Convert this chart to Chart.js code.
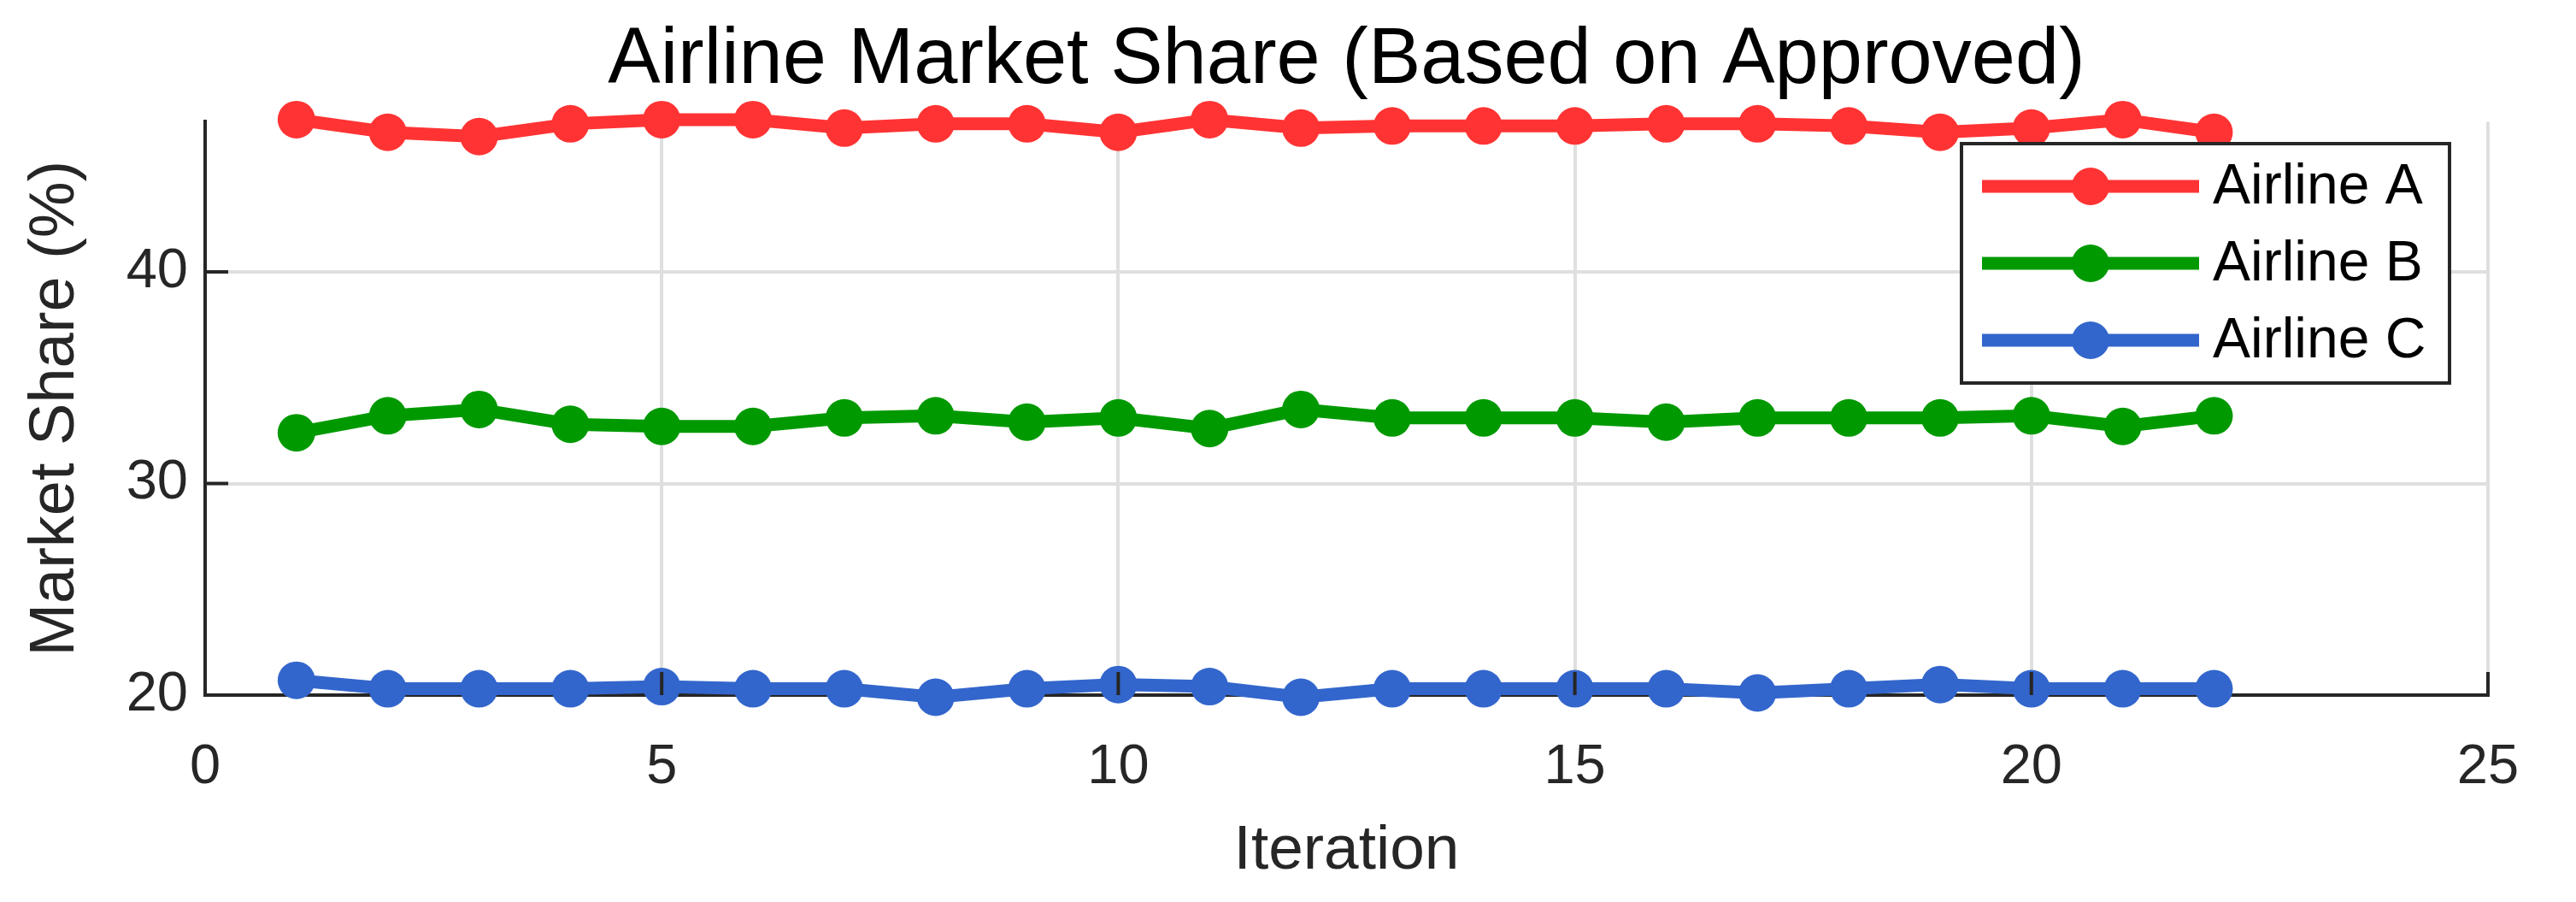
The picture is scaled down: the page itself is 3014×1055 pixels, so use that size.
<!DOCTYPE html>
<html lang="en">
<head>
  <meta charset="UTF-8" />
  <title>Airline Market Share</title>
  <script src="https://cdn.jsdelivr.net/npm/chart.js"></script>
  <style>
    html, body {
      margin: 0;
      padding: 0;
      background: #ffffff;
    }
    #chart {
      display: block;
    }
  </style>
</head>
<body>
<canvas id="chart" width="3014" height="1055"></canvas>
<script>
  // data
  const iterations = [1, 2, 3, 4, 5, 6, 7, 8, 9, 10, 11, 12, 13, 14, 15, 16, 17, 18, 19, 20, 21, 22];
  const airlineA = [47.2, 46.6, 46.4, 47.0, 47.2, 47.2, 46.8, 47.0, 47.0, 46.6, 47.2, 46.8, 46.9, 46.9, 46.9, 47.0, 47.0, 46.9, 46.6, 46.8, 47.2, 46.6];
  const airlineB = [32.4, 33.2, 33.5, 32.8, 32.7, 32.7, 33.1, 33.2, 32.9, 33.1, 32.6, 33.5, 33.1, 33.1, 33.1, 32.9, 33.1, 33.1, 33.1, 33.2, 32.7, 33.2];
  const airlineC = [20.7, 20.3, 20.3, 20.3, 20.4, 20.3, 20.3, 19.9, 20.3, 20.5, 20.4, 19.9, 20.3, 20.3, 20.3, 20.3, 20.1, 20.3, 20.5, 20.3, 20.3, 20.3];
  const seriesNames = ['Airline A', 'Airline B', 'Airline C'];
  const xTicks = [0, 5, 10, 15, 20, 25];
  const yTicks = [20, 30, 40];

  const colors = ['#ff3333', '#009900', '#3366cc'];
  const axisColor = '#262626';
  const gridColor = '#dfdfdf';
  const fontFamily = '"Liberation Sans", Arial, Helvetica, sans-serif';

  function toPoints(values) {
    return iterations.map((x, i) => ({ x: x, y: values[i] }));
  }

  const allSeries = [airlineA, airlineB, airlineC];
  const datasets = allSeries.map((values, i) => ({
    label: seriesNames[i],
    data: toPoints(values),
    borderColor: colors[i],
    backgroundColor: colors[i],
    pointBackgroundColor: colors[i],
    pointBorderWidth: 0,
    pointRadius: 22,
    borderWidth: 15,
    tension: 0,
    clip: false
  }));

  // center the title over the plot box instead of the whole canvas
  const centerTitle = {
    id: 'centerTitle',
    afterLayout(chart) {
      if (chart.titleBlock) {
        chart.titleBlock.left = chart.chartArea.left;
        chart.titleBlock.right = chart.chartArea.right;
      }
    }
  };

  // MATLAB style ticks pointing into the plot box
  const inwardTicks = {
    id: 'inwardTicks',
    afterDatasetsDraw(chart) {
      const { ctx, chartArea, scales } = chart;
      const len = 27;
      ctx.save();
      ctx.strokeStyle = axisColor;
      ctx.lineWidth = 4;
      ctx.beginPath();
      xTicks.forEach(v => {
        const px = scales.x.getPixelForValue(v);
        ctx.moveTo(px, chartArea.bottom);
        ctx.lineTo(px, chartArea.bottom - len);
      });
      yTicks.forEach(v => {
        const py = scales.y.getPixelForValue(v);
        ctx.moveTo(chartArea.left, py);
        ctx.lineTo(chartArea.left + len, py);
      });
      ctx.stroke();
      ctx.restore();
    }
  };

  // legend box inside the axes, top right
  const boxLegend = {
    id: 'boxLegend',
    afterDraw(chart) {
      const ctx = chart.ctx;
      const box = { left: 2295, top: 168, right: 2866, bottom: 448 };
      ctx.save();
      ctx.fillStyle = '#ffffff';
      ctx.fillRect(box.left, box.top, box.right - box.left, box.bottom - box.top);
      ctx.strokeStyle = axisColor;
      ctx.lineWidth = 4;
      ctx.strokeRect(box.left, box.top, box.right - box.left, box.bottom - box.top);

      chart.data.datasets.forEach((ds, i) => {
        const y = 218 + i * 90;
        ctx.strokeStyle = ds.borderColor;
        ctx.lineWidth = ds.borderWidth;
        ctx.beginPath();
        ctx.moveTo(2319, y);
        ctx.lineTo(2573, y);
        ctx.stroke();
        ctx.fillStyle = ds.pointBackgroundColor;
        ctx.beginPath();
        ctx.arc(2446, y, ds.pointRadius, 0, Math.PI * 2);
        ctx.fill();
        ctx.fillStyle = '#000000';
        ctx.font = '66px ' + fontFamily;
        ctx.textAlign = 'left';
        ctx.textBaseline = 'middle';
        ctx.fillText(ds.label, 2589, y + 2);
      });
      ctx.restore();
    }
  };

  new Chart(document.getElementById('chart'), {
    type: 'line',
    data: { datasets: datasets },
    plugins: [centerTitle, inwardTicks, boxLegend],
    options: {
      responsive: false,
      animation: false,
      devicePixelRatio: 1,
      layout: { padding: { left: 0, right: 103, top: 0, bottom: 0 } },
      plugins: {
        legend: { display: false },
        tooltip: { enabled: false },
        title: {
          display: true,
          text: 'Airline Market Share (Based on Approved)',
          color: '#000000',
          font: { family: fontFamily, size: 92, weight: 'normal', lineHeight: 1.2 },
          padding: { top: 16, bottom: 16 }
        }
      },
      scales: {
        x: {
          type: 'linear',
          min: 0,
          max: 25,
          afterBuildTicks: s => { s.ticks = xTicks.map(v => ({ value: v })); },
          afterFit: s => { s.height = 242; },
          grid: { color: gridColor, lineWidth: 4, drawTicks: false },
          border: { color: axisColor, width: 4 },
          ticks: {
            color: axisColor,
            padding: 46,
            font: { family: fontFamily, size: 65 }
          },
          title: {
            display: true,
            text: 'Iteration',
            color: axisColor,
            font: { family: fontFamily, size: 73, lineHeight: 1.2 },
            padding: { top: 0, bottom: 15 }
          }
        },
        y: {
          type: 'linear',
          min: 20,
          max: 47.1,
          afterBuildTicks: s => { s.ticks = yTicks.map(v => ({ value: v })); },
          afterFit: s => { s.width = 240; },
          grid: { color: gridColor, lineWidth: 4, drawTicks: false },
          border: { color: axisColor, width: 4 },
          ticks: {
            color: axisColor,
            padding: 20,
            font: { family: fontFamily, size: 65 }
          },
          title: {
            display: true,
            text: 'Market Share (%)',
            color: axisColor,
            font: { family: fontFamily, size: 74, lineHeight: 1.2 },
            padding: { top: 21, bottom: 0 }
          }
        }
      }
    }
  });
</script>
</body>
</html>
